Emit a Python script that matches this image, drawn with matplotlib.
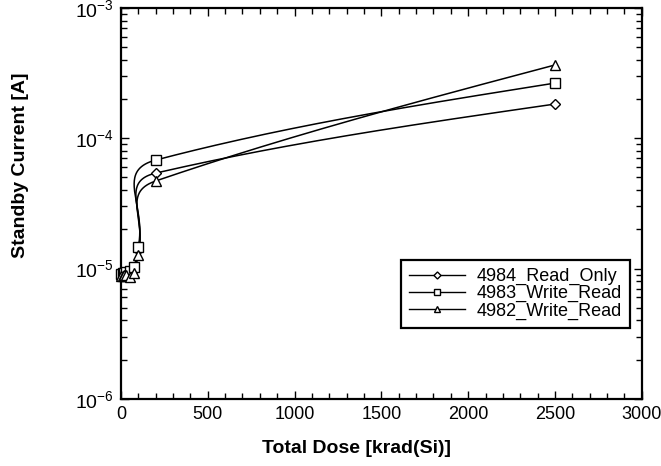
import numpy as np
import matplotlib
matplotlib.use("Agg")
import matplotlib.pyplot as plt
import matplotlib.transforms as mtransforms
from matplotlib.ticker import MultipleLocator, LogLocator, FuncFormatter

plt.rcParams["font.family"] = ["Liberation Sans", "DejaVu Sans"]
plt.rcParams["mathtext.fontset"] = "custom"
plt.rcParams["mathtext.rm"] = "Liberation Sans"
plt.rcParams["mathtext.it"] = "Liberation Sans"

# Data
dose = [0, 10, 20, 30, 50, 75, 100, 200, 2500]
read_only_4984 = [9.0e-6, 9.0e-6, 9.1e-6, 9.2e-6, 9.4e-6, 9.8e-6, 1.38e-5, 5.4e-5, 1.83e-4]
write_read_4983 = [9.1e-6, 9.2e-6, 9.2e-6, 9.4e-6, 9.6e-6, 1.02e-5, 1.47e-5, 6.8e-5, 2.65e-4]
write_read_4982 = [8.8e-6, 8.8e-6, 8.9e-6, 8.9e-6, 8.6e-6, 9.3e-6, 1.27e-5, 4.7e-5, 3.65e-4]

series = [
    ("4984_Read_Only", read_only_4984, "D", 5.5),
    ("4983_Write_Read", write_read_4983, "s", 6.5),
    ("4982_Write_Read", write_read_4982, "^", 7),
]

XMIN, XMAX = 0, 3000
YMIN, YMAX = 1e-6, 1e-3


def smooth_curve(x, y, w=521, hgt=391, n=80, p=1.7, k=1.45):
    # parametric Hermite curve in screen-like coords (linear x, log y)
    u = np.asarray(x, float) / (XMAX - XMIN) * w
    v = (np.log10(y) - np.log10(YMIN)) / 3 * hgt
    P = np.column_stack([u, v])
    seg = np.diff(P, axis=0)
    L = np.linalg.norm(seg, axis=1)
    # interior tangents: segment directions weighted by length**p
    D = np.zeros_like(P)
    D[1:-1] = seg[:-1] * L[:-1, None] ** (p - 1) + seg[1:] * L[1:, None] ** (p - 1)
    D[1:-1] /= np.linalg.norm(D[1:-1], axis=1)[:, None]
    s = np.linspace(0, 1, n)[:, None]
    h00 = 2 * s**3 - 3 * s**2 + 1
    h10 = s**3 - 2 * s**2 + s
    h01 = -2 * s**3 + 3 * s**2
    h11 = s**3 - s**2
    pts = []
    last = len(P) - 2
    for i in range(len(P) - 1):
        kk = k if 0 < i < last else 1.0
        t0 = D[i] * L[i] * kk if i > 0 else None
        t1 = D[i + 1] * L[i] * kk if i < last else None
        # natural end conditions
        if t0 is None:
            t0 = 1.5 * seg[i] - 0.5 * t1
        if t1 is None:
            t1 = 1.5 * seg[i] - 0.5 * t0
        pts.append(h00 * P[i] + h10 * t0 + h01 * P[i + 1] + h11 * t1)
    pts = np.vstack(pts)
    return pts[:, 0] / w * (XMAX - XMIN), 10 ** (pts[:, 1] / hgt * 3 + np.log10(YMIN))


fig = plt.figure(figsize=(6.61, 4.66), dpi=100)
ax = fig.add_axes([0.183, 0.144, 0.788, 0.839])

for label, vals, mk, ms in series:
    xs, ys = smooth_curve(dose, vals)
    ax.plot(xs, ys, color="black", lw=1.1)
    ax.plot(dose, vals, linestyle="none", marker=mk, markersize=ms,
            markerfacecolor="white", markeredgecolor="black", markeredgewidth=1.0,
            clip_on=False, zorder=3)
    # legend handle
    ax.plot([], [], color="black", lw=1.0, marker=mk, markersize=ms * 0.65,
            markerfacecolor="white", markeredgecolor="black", label=label)

ax.set_yscale("log")
ax.set_xlim(XMIN, XMAX)
ax.set_ylim(YMIN, YMAX)

ax.xaxis.set_major_locator(MultipleLocator(500))
ax.xaxis.set_minor_locator(MultipleLocator(100))
ax.yaxis.set_major_locator(LogLocator(base=10))
ax.yaxis.set_minor_locator(LogLocator(base=10, subs=np.arange(2, 10)))
ax.yaxis.set_major_formatter(FuncFormatter(lambda v, p: r"$10^{%d}$" % round(np.log10(v))))
ax.yaxis.set_minor_formatter(FuncFormatter(lambda v, p: ""))

ax.tick_params(which="both", direction="in", top=True, right=True, width=1.0)
ax.tick_params(which="major", length=6, pad=5)
ax.tick_params(axis="x", which="major", labelsize=13)
ax.tick_params(axis="y", which="major", labelsize=14)
ax.tick_params(which="minor", length=4)
for s in ax.spines.values():
    s.set_linewidth(1.6)

ax.set_xlabel("Total Dose [krad(Si)]", fontsize=14, fontweight="bold")
ax.xaxis.set_label_coords(0.453, -0.105)
ax.set_ylabel("Standby Current [A]", fontsize=14, fontweight="bold")
ax.yaxis.set_label_coords(-0.177, 0.598)

leg = ax.legend(loc="lower right", bbox_to_anchor=(0.977, 0.182), fontsize=13,
                handlelength=3.1, labelspacing=0.0, handletextpad=0.65,
                borderpad=0.45, borderaxespad=0, fancybox=False, framealpha=1,
                edgecolor="black")
leg.get_frame().set_linewidth(1.6)

# the last x tick label sits a little inside the frame in the reference
fig.canvas.draw()
last = ax.xaxis.get_major_ticks()[-1].label1
last.set_transform(last.get_transform()
                   + mtransforms.ScaledTranslation(-8 / 100, 0, fig.dpi_scale_trans))

fig.savefig("out.png", dpi=100)
